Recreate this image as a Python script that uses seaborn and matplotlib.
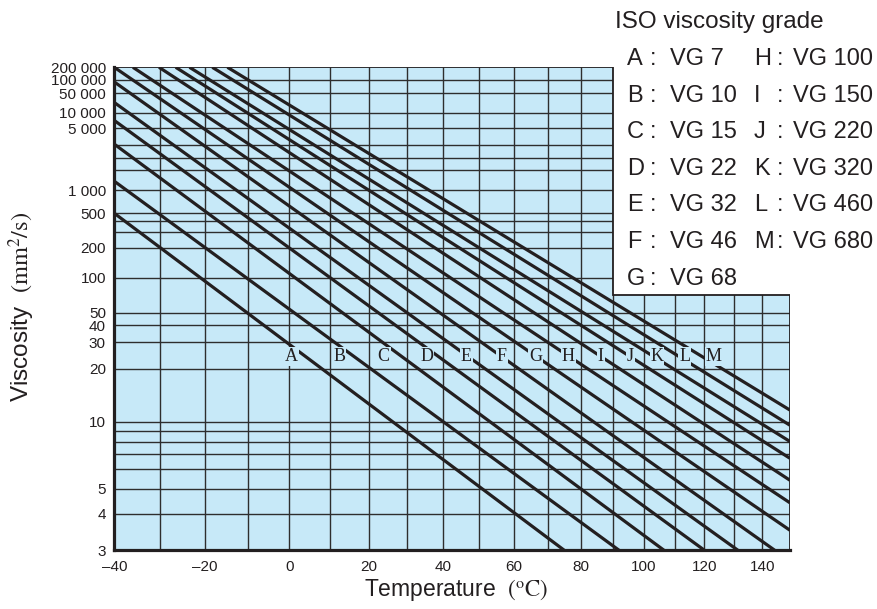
import numpy as np
import pandas as pd
import matplotlib
matplotlib.use("Agg")
import matplotlib.pyplot as plt
import seaborn as sns
from matplotlib.patches import Polygon
from matplotlib.ticker import FixedLocator, FixedFormatter, NullLocator

# ===============================
# DATA
# ===============================
grades = list("ABCDEFGHIJKLM")
vg_numbers = [7, 10, 15, 22, 32, 46, 68, 100, 150, 220, 320, 460, 680]

# every grade is a straight line on the chart: where it enters and where it leaves
temp_start = [-40, -40, -40, -40, -40, -40, -40, -36, -30.3, -26.6, -23.5, -18.3, -14.8]
visc_start = [500, 1350, 5200, 14000, 32000, 90000, 200000, 200000, 200000, 200000, 200000, 200000, 200000]
temp_end = [75, 92, 106.5, 120, 131.5, 144.5, 150, 150, 150, 150, 150, 150, 150]
visc_end = [3, 3, 3, 3, 3, 3, 3.5, 4.4, 5.4, 6.7, 8.0, 9.6, 11.5]

# grade letters written across the chart
label_temps = [0.5, 12.4, 23.9, 35.4, 46.4, 56.5, 66.5, 76.2, 86.2, 95.5, 104.2, 113.3, 123.2]
label_visc = 24

# axis ticks / grid
x_ticks = [-40, -20, 0, 20, 40, 60, 80, 100, 120, 140]
x_ticklabels = ["\u201340", "\u201320", "0", "20", "40", "60", "80", "100", "120", "140"]
x_grid = [-30, -20, -10, 0, 10, 20, 30, 40, 50, 60, 70, 80, 90, 100, 110, 120, 130, 140]
# the printed chart puts "10 000" and "5 000" on the 20 000 / 10 000 lines
y_ticks = [200000, 100000, 50000, 20000, 10000, 1000, 500, 200, 100, 50, 40, 30, 20, 10, 5, 4, 3]
y_ticklabels = ["200 000", "100 000", "50 000", "10 000", "5 000", "1 000", "500", "200",
                "100", "50", "40", "30", "20", "10", "5", "4", "3"]
y_grid = [100000, 50000, 20000, 10000, 5000, 3000, 2000, 1000, 500, 400, 300, 200, 100,
          50, 40, 30, 20, 10, 9, 8, 7, 6, 5, 4]

t_min, t_max = -40, 150
v_min, v_max = 3, 200000
notch_t, notch_v = 90, 70   # upper-right corner left free for the grade list

BG = "#c7e9f8"
INK = "#231f20"
GRID = "#2e2e2e"

plt.rcParams["font.family"] = ["Liberation Sans", "DejaVu Sans"]
plt.rcParams["mathtext.fontset"] = "stix"

# ===============================
# SCALES (log of temperature / Walther for viscosity)
# ===============================
def t_fwd(t):
    with np.errstate(all="ignore"):
        return np.log10(np.asarray(t, dtype=float) + 310.0)

def t_inv(u):
    return 10 ** np.asarray(u, dtype=float) - 310.0

def v_fwd(v):
    with np.errstate(all="ignore"):
        return np.log10(np.log10(np.asarray(v, dtype=float) + 0.7))

def v_inv(w):
    with np.errstate(all="ignore"):
        return 10 ** (10 ** np.asarray(w, dtype=float)) - 0.7

fig = plt.figure(figsize=(8.77, 6.09), dpi=100)
ax = fig.add_axes([0.1303, 0.0964, 0.7705, 0.7931])
ax.set_xscale("function", functions=(t_fwd, t_inv))
ax.set_yscale("function", functions=(v_fwd, v_inv))

# chart region (light blue, with the notch)
region_xy = [(t_min, v_min), (t_max, v_min), (t_max, notch_v), (notch_t, notch_v),
             (notch_t, v_max), (t_min, v_max)]
region = Polygon(region_xy, closed=True, transform=ax.transData,
                 facecolor=BG, edgecolor="none", zorder=0)
ax.add_patch(region)

hl = ax.hlines(y_grid, t_min, t_max, colors=GRID, linewidth=1.0, zorder=1)
vl = ax.vlines(x_grid, v_min, v_max, colors=GRID, linewidth=1.0, zorder=1)
hl.set_clip_path(region)
vl.set_clip_path(region)

# ===============================
# GRADE LINES
# ===============================
rows = []
for g, t0, v0, t1, v1 in zip(grades, temp_start, visc_start, temp_end, visc_end):
    rows.append({"grade": g, "temp": t0, "visc": v0})
    rows.append({"grade": g, "temp": t1, "visc": v1})
df = pd.DataFrame(rows)

sns.lineplot(data=df, x="temp", y="visc", units="grade", estimator=None, sort=False,
             color=INK, linewidth=2.3, legend=False, ax=ax)
for ln in ax.lines:
    ln.set_clip_path(region)
    ln.set_solid_capstyle("butt")
    ln.set_zorder(2)

outline = Polygon(region_xy, closed=True, transform=ax.transData,
                  fill=False, edgecolor=INK, linewidth=1.3, zorder=3)
ax.add_patch(outline)

for g, t in zip(grades, label_temps):
    ax.text(t, label_visc, g, ha="center", va="center", fontsize=13,
            family="Liberation Serif", color=INK, zorder=5,
            bbox=dict(facecolor=BG, edgecolor="none", pad=0.6))

ax.set_xlim(t_min, t_max)
ax.set_ylim(v_min, v_max)
ax.set_facecolor("white")
for s in ["top", "right"]:
    ax.spines[s].set_visible(False)
for s in ["left", "bottom"]:
    ax.spines[s].set_linewidth(2.3)
    ax.spines[s].set_color(INK)
    ax.spines[s].set_zorder(6)

ax.xaxis.set_major_locator(FixedLocator(x_ticks))
ax.xaxis.set_major_formatter(FixedFormatter(x_ticklabels))
ax.yaxis.set_major_locator(FixedLocator(y_ticks))
ax.yaxis.set_major_formatter(FixedFormatter(y_ticklabels))
ax.xaxis.set_minor_locator(NullLocator())
ax.yaxis.set_minor_locator(NullLocator())
ax.tick_params(axis="both", length=0, colors="#231f20", labelsize=11)
ax.tick_params(axis="y", pad=6)
ax.tick_params(axis="x", pad=7)
ax.set_xlabel("")
ax.set_ylabel("")

fig.text(456 / 877, 1 - 590 / 609, r"Temperature  $(^{\mathrm{o}}\mathrm{C})$",
         ha="center", va="center", fontsize=16.5, color=INK)
fig.text(22 / 877, 1 - 307 / 609, r"Viscosity  $(\mathrm{mm}^{2}/\mathrm{s})$",
         ha="center", va="center", rotation=90, fontsize=17.5, color=INK)

# ===============================
# GRADE LIST (upper right)
# ===============================
fig.text(615 / 877, 1 - 22 / 609, "ISO viscosity grade", ha="left", va="center",
         fontsize=17.5, color=INK)
col_x = [(627, 650, 670), (754, 777, 793)]
for i, (g, vg) in enumerate(zip(grades, vg_numbers)):
    col, row = divmod(i, 7)
    y = 1 - (59 + 36.6 * row) / 609
    xl, xc, xv = col_x[col]
    fig.text(xl / 877, y, g, ha="left", va="center", fontsize=17, color=INK)
    fig.text(xc / 877, y, ":", ha="left", va="center", fontsize=17, color=INK)
    fig.text(xv / 877, y, f"VG {vg}", ha="left", va="center", fontsize=17, color=INK)

fig.savefig("out.png", dpi=100)
